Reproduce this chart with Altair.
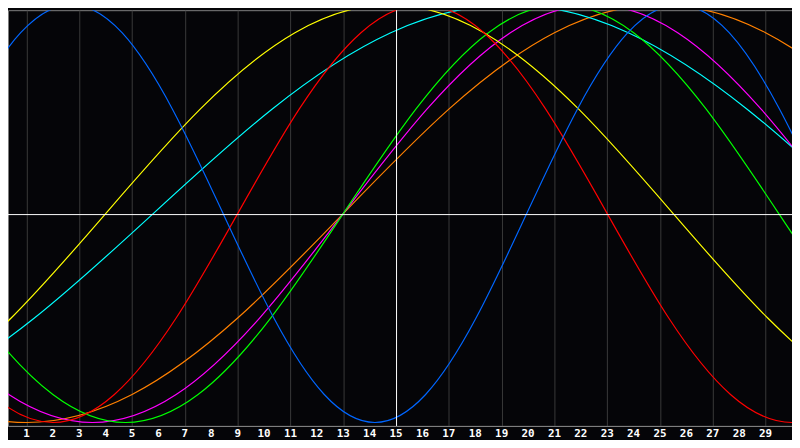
import altair as alt
import pandas as pd

# Day positions and cycle values in percent
blue_days = [-3.05, -1.13, 0.78, 2.7, 4.62, 6.53, 8.45, 10.37, 12.28, 14.2,
             16.12, 18.03, 19.95, 21.87, 23.78, 25.7, 27.62, 29.53, 31.45]
blue_vals = [0, 50, 86.6, 100, 86.6, 50, 0, -50, -86.6, -100,
             -86.6, -50, 0, 50, 86.6, 100, 86.6, 50, 0]

red_days = [-5.0, -2.67, -0.33, 2.0, 4.33, 6.67, 9.0, 11.33, 13.67, 16.0,
            18.33, 20.67, 23.0, 25.33, 27.67, 30.0, 32.33, 34.67, 37.0]
red_vals = [0, -50, -86.6, -100, -86.6, -50, 0, 50, 86.6, 100,
            86.6, 50, 0, -50, -86.6, -100, -86.6, -50, 0]

yellow_days = [-17.5, -13.92, -10.33, -6.75, -3.17, 0.42, 4.0, 7.58, 11.17, 14.75,
               18.33, 21.92, 25.5, 29.08, 32.67, 36.25, 39.83, 43.42, 47.0]
yellow_vals = [0, -50, -86.6, -100, -86.6, -50, 0, 50, 86.6, 100,
               86.6, 50, 0, -50, -86.6, -100, -86.6, -50, 0]

cyan_days = [-21.2, -16.7, -12.2, -7.7, -3.2, 1.3, 5.8, 10.3, 14.8, 19.3,
             23.8, 28.3, 32.8, 37.3, 41.8, 46.3, 50.8, 55.3, 59.8]
cyan_vals = [0, -50, -86.6, -100, -86.6, -50, 0, 50, 86.6, 100,
             86.6, 50, 0, -50, -86.6, -100, -86.6, -50, 0]

green_days = [-3.5, -0.75, 2.0, 4.75, 7.5, 10.25, 13.0, 15.75, 18.5, 21.25,
              24.0, 26.75, 29.5, 32.25, 35.0, 37.75, 40.5, 43.25, 46.0]
green_vals = [0, -50, -86.6, -100, -86.6, -50, 0, 50, 86.6, 100,
              86.6, 50, 0, -50, -86.6, -100, -86.6, -50, 0]

magenta_days = [-6.0, -2.83, 0.33, 3.5, 6.67, 9.83, 13.0, 16.17, 19.33, 22.5,
                25.67, 28.83, 32.0, 35.17, 38.33, 41.5, 44.67, 47.83, 51.0]
magenta_vals = [0, -50, -86.6, -100, -86.6, -50, 0, 50, 86.6, 100,
                86.6, 50, 0, -50, -86.6, -100, -86.6, -50, 0]

orange_days = [-11, -7, -3, 1, 5, 9, 13, 17, 21, 25,
               29, 33, 37, 41, 45, 49, 53, 57, 61]
orange_vals = [0, -50, -86.6, -100, -86.6, -50, 0, 50, 86.6, 100,
               86.6, 50, 0, -50, -86.6, -100, -86.6, -50, 0]

day_labels = list(range(1, 30))

series = [
    ("Awareness", orange_days, orange_vals, "#ff8000"),
    ("Spiritual", cyan_days, cyan_vals, "#00ffff"),
    ("Intuitive", magenta_days, magenta_vals, "#ff00ff"),
    ("Intellectual", green_days, green_vals, "#00ff00"),
    ("Aesthetic", yellow_days, yellow_vals, "#ffff00"),
    ("Emotional", red_days, red_vals, "#ff0000"),
    ("Physical", blue_days, blue_vals, "#0066ff"),
]

rows = []
for name, days, vals, _ in series:
    for d, v in zip(days, vals):
        rows.append({"cycle": name, "day": d, "value": v})
df = pd.DataFrame(rows)
labels_df = pd.DataFrame({"day": day_labels, "label": [str(d) for d in day_labels]})

names = [s[0] for s in series]
colors = [s[3] for s in series]

xscale = alt.Scale(domain=[0.3, 30], nice=False, zero=False)
yscale = alt.Scale(domain=[-101.66, 97.39], nice=False, zero=False)

xaxis = alt.Axis(
    values=day_labels, grid=True, gridColor="#3a3a3a", gridWidth=1,
    domain=True, domainColor="#808080", domainWidth=1,
    ticks=False, labels=False, title=None,
)

lines = alt.Chart(df).mark_line(interpolate="natural", strokeWidth=1.2, clip=True).encode(
    x=alt.X("day:Q", scale=xscale, axis=xaxis),
    y=alt.Y("value:Q", scale=yscale, axis=None),
    color=alt.Color("cycle:N", scale=alt.Scale(domain=names, range=colors), legend=None),
    order=alt.Order("day:Q"),
)

hrule = alt.Chart().mark_rule(color="#ffffff", strokeWidth=1, yOffset=1).encode(
    y=alt.datum(0)
)
vrule = alt.Chart().mark_rule(color="#ffffff", strokeWidth=1, xOffset=0.5).encode(
    x=alt.datum(15)
)

labels = alt.Chart(labels_df).mark_text(
    color="#ffffff", font="DejaVu Sans Mono", fontWeight="bold", fontSize=11,
    align="center", baseline="alphabetic",
).encode(
    x=alt.X("day:Q", scale=xscale),
    y=alt.value(431),
    text="label:N",
)

chart = alt.layer(lines, hrule, vrule, labels).properties(
    width=792, height=420,
    background="#050508",
    padding={"left": 0, "top": 0, "right": 0, "bottom": 12},
    autosize=alt.AutoSizeParams(type="none"),
).configure_view(stroke="#808080", strokeWidth=1)

chart.save("out.html", embed_options={"renderer": "svg", "actions": False})
